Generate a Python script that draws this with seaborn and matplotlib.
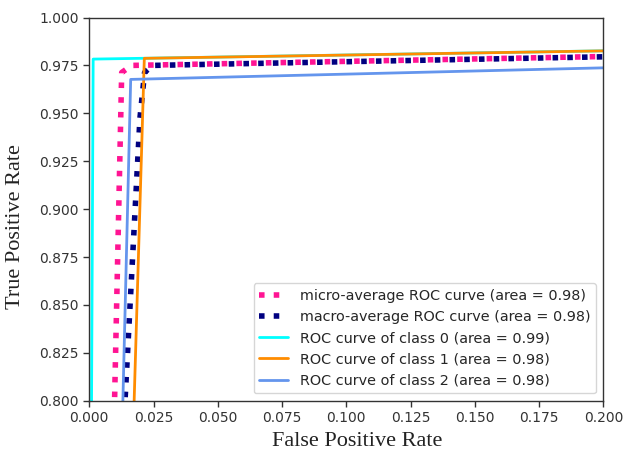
import matplotlib
matplotlib.use("Agg")
import matplotlib.pyplot as plt
import seaborn as sns
import pandas as pd

# ROC curve points
micro_fpr = [0.0, 0.0095, 0.0126, 0.0165, 1.0]
micro_tpr = [0.0, 0.78, 0.9713, 0.9750, 1.0]

macro_fpr = [0.0, 0.0131, 0.0197, 0.0215, 0.0245, 1.0]
macro_tpr = [0.0, 0.78, 0.9475, 0.9713, 0.9750, 1.0]

c0_fpr = [0.0, 0.0008, 0.0015, 1.0]
c0_tpr = [0.0, 0.78, 0.9783, 1.0]

c1_fpr = [0.0, 0.0170, 0.0214, 1.0]
c1_tpr = [0.0, 0.78, 0.9787, 1.0]

c2_fpr = [0.0, 0.0127, 0.0161, 1.0]
c2_tpr = [0.0, 0.78, 0.9677, 1.0]

labels = [
    "micro-average ROC curve (area = 0.98)",
    "macro-average ROC curve (area = 0.98)",
    "ROC curve of class 0 (area = 0.99)",
    "ROC curve of class 1 (area = 0.98)",
    "ROC curve of class 2 (area = 0.98)",
]

sns.set_style("ticks")
plt.rcParams["font.family"] = ["DejaVu Sans"]

fig = plt.figure(figsize=(6.25, 4.55), dpi=100)
ax = fig.add_axes([0.1429, 0.1193, 0.8225, 0.8422])

curves = [
    (micro_fpr, micro_tpr, labels[0], "deeppink", ":", 4),
    (macro_fpr, macro_tpr, labels[1], "navy", ":", 4),
    (c0_fpr, c0_tpr, labels[2], "aqua", "-", 2),
    (c1_fpr, c1_tpr, labels[3], "darkorange", "-", 2),
    (c2_fpr, c2_tpr, labels[4], "cornflowerblue", "-", 2),
]
for fpr, tpr, lab, col, ls, lw in curves:
    df = pd.DataFrame({"fpr": fpr, "tpr": tpr})
    sns.lineplot(data=df, x="fpr", y="tpr", ax=ax, sort=False, estimator=None,
                 color=col, linestyle=ls, linewidth=lw, label=lab)

ax.set_xlim(0.0, 0.2)
ax.set_ylim(0.8, 1.0)
ax.set_xticks([0.0, 0.025, 0.05, 0.075, 0.1, 0.125, 0.15, 0.175, 0.2])
ax.set_yticks([0.8, 0.825, 0.85, 0.875, 0.9, 0.925, 0.95, 0.975, 1.0])
ax.set_xticklabels(["0.000", "0.025", "0.050", "0.075", "0.100", "0.125", "0.150", "0.175", "0.200"])
ax.set_yticklabels(["0.800", "0.825", "0.850", "0.875", "0.900", "0.925", "0.950", "0.975", "1.000"])
ax.tick_params(labelsize=10, colors="#333333", length=4, width=1)
for s in ax.spines.values():
    s.set_color("#333333")
    s.set_linewidth(1)

ax.set_xlabel("False Positive Rate", family="Liberation Serif", fontsize=16, color="#222222")
ax.set_ylabel("True Positive Rate", family="Liberation Serif", fontsize=16, color="#222222")
ax.xaxis.set_label_coords(0.522, -0.082)
ax.yaxis.set_label_coords(-0.125, 0.455)

leg = ax.legend(loc="lower right", prop={"size": 10.4}, frameon=True, handlelength=2.0)
leg.get_frame().set_edgecolor("#cccccc")

fig.savefig("out.png", dpi=100)
